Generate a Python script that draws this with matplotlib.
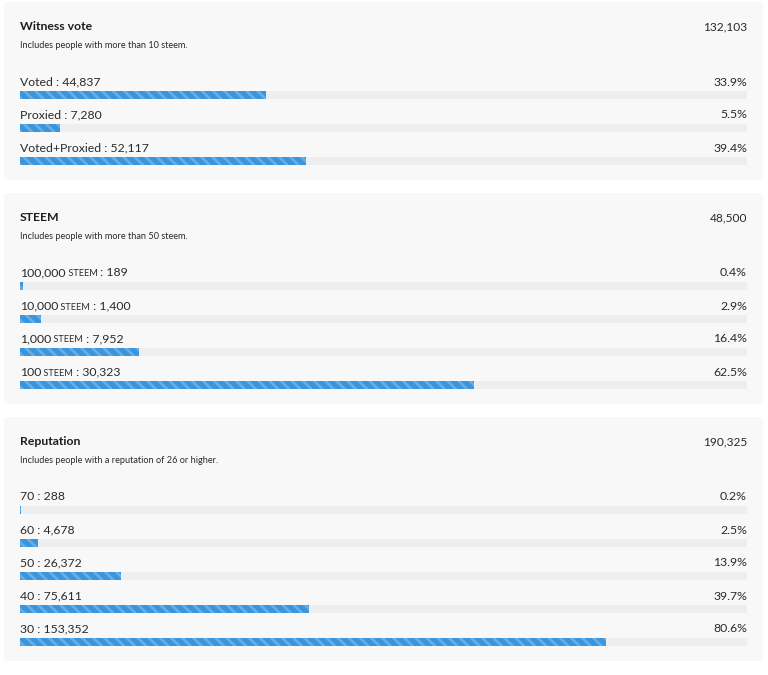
import matplotlib
matplotlib.use('Agg')
import matplotlib.pyplot as plt
from matplotlib.patches import FancyBboxPatch

plt.rcParams['font.family'] = ['Lato', 'DejaVu Sans']
plt.rcParams['hatch.linewidth'] = 2.0

# panel titles, notes and totals
titles = ['Witness vote', 'STEEM', 'Reputation']
notes = ['Includes people with more than 10 steem.',
         'Includes people with more than 50 steem.',
         'Includes people with a reputation of 26 or higher.']
totals = [132103, 48500, 190325]

# witness vote rows
witness_labels = ['Voted', 'Proxied', 'Voted+Proxied']
witness_counts = [44837, 7280, 52117]
witness_pct = [33.9, 5.5, 39.4]

# steem rows (amount shown with a small-caps "STEEM")
steem_labels = ['100,000', '10,000', '1,000', '100']
steem_counts = [189, 1400, 7952, 30323]
steem_pct = [0.4, 2.9, 16.4, 62.5]

# reputation rows
rep_labels = ['70', '60', '50', '40', '30']
rep_counts = [288, 4678, 26372, 75611, 153352]
rep_pct = [0.2, 2.5, 13.9, 39.7, 80.6]

panels = [
    (witness_labels, witness_counts, witness_pct, None),
    (steem_labels, steem_counts, steem_pct, 'STEEM'),
    (rep_labels, rep_counts, rep_pct, None),
]

W, H = 768, 675
fig = plt.figure(figsize=(W / 100, H / 100), dpi=100)
fig.patch.set_facecolor('white')

# background axes in pixel units for the panel boxes
bg = fig.add_axes([0, 0, 1, 1])
bg.set_xlim(0, W)
bg.set_ylim(H, 0)
bg.axis('off')

# bar axes: x in percent over the track, y in pixels
ax = fig.add_axes([20 / W, 0, 727 / W, 1])
ax.set_xlim(0, 100)
ax.set_ylim(H, 0)
ax.axis('off')
ax.patch.set_alpha(0)

txt_col = '#2a2a2a'
label_fs = 8.8
renderer = fig.canvas.get_renderer()


def x_after(t):
    bb = t.get_window_extent(renderer=renderer)
    return ax.transData.inverted().transform((bb.x1, bb.y0))[0]


top = 2
for p, (labels, counts, pct, unit) in enumerate(panels):
    n = len(labels)
    height = 92.5 + 33 * (n - 1) + 19.5
    bg.add_patch(FancyBboxPatch((4, top), 759, height,
                                boxstyle='round,pad=0,rounding_size=4',
                                facecolor='#f8f8f8', edgecolor='none'))
    ax.text(0, top + 28, titles[p], fontsize=8.8, fontweight='bold', color='#1e1e1e',
            va='baseline', ha='left')
    ax.text(0, top + 46, notes[p], fontsize=6.6, color=txt_col, va='baseline', ha='left')
    ax.text(100, top + 28, f'{totals[p]:,}', fontsize=8.6, color=txt_col,
            va='baseline', ha='right')

    ys = [top + 92.5 + 33 * i for i in range(n)]
    ax.barh(ys, [100] * n, height=8, color='#eceeef', linewidth=0)
    ax.barh(ys, pct, height=8, color='#3a95dc', edgecolor='#66afe6',
            hatch='\\\\\\', linewidth=0)

    for i in range(n):
        yb = ys[i] - 9
        if unit:
            t1 = ax.text(0, yb, labels[i], fontsize=label_fs, color=txt_col, va='baseline')
            t2 = ax.text(x_after(t1), yb, ' ' + unit, fontsize=6.6, color=txt_col,
                         va='baseline')
            ax.text(x_after(t2), yb, f' : {counts[i]:,}', fontsize=label_fs, color=txt_col,
                    va='baseline')
        else:
            ax.text(0, yb, f'{labels[i]} : {counts[i]:,}', fontsize=label_fs,
                    color=txt_col, va='baseline')
        ax.text(100, yb, f'{pct[i]}%', fontsize=label_fs, color=txt_col,
                va='baseline', ha='right')

    top += height + 13

fig.savefig('out.png', dpi=100, facecolor='white')
